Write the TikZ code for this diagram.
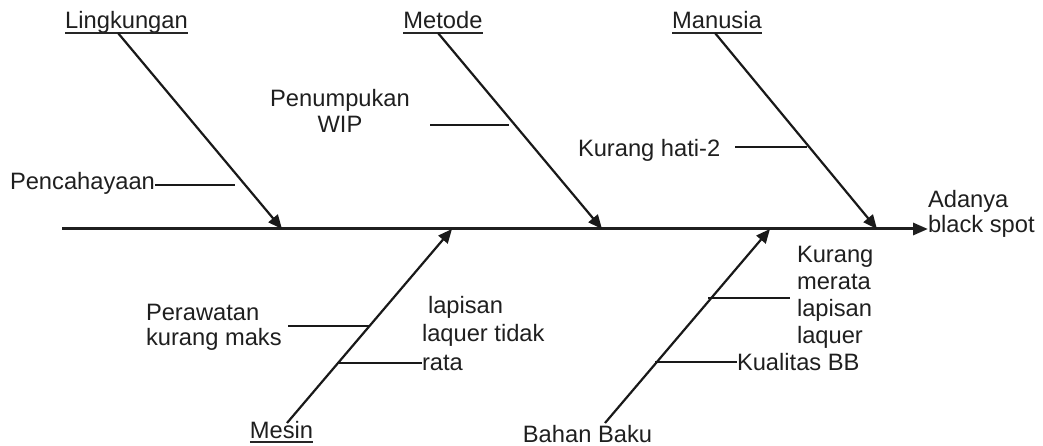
\documentclass[tikz,border=0pt]{standalone}
\usepackage{fontspec}
\setmainfont{Liberation Sans}
\usetikzlibrary{arrows.meta}
\begin{document}
\begin{tikzpicture}[x=1pt,y=-1pt,
  lbl/.style={inner sep=0pt, outer sep=0pt, font=\fontsize{23.7}{26.5}\selectfont, text=black!88},
  spine/.style={line width=3pt, draw=black!88, -{Triangle[length=15pt,width=12pt]}},
  bone/.style={line width=2.2pt, draw=black!90, -{Triangle[length=14pt,width=12pt]}},
  twig/.style={line width=1.4pt, draw=black!90},
  uline/.style={line width=1.5pt, draw=black!85},
]
\useasboundingbox (0,0) rectangle (1043,446);

% spine
\coordinate (s0) at (62,229);
\node[lbl, anchor=base west, align=left, font=\fontsize{23.7}{25}\selectfont] (eff) at (928,233) {Adanya\\black spot};
\draw[spine] (s0) -- (s0 -| eff.west);

% category labels
\node[lbl, anchor=base] (ling) at (126.5,29) {Lingkungan};
\node[lbl, anchor=base] (met) at (443,29) {Metode};
\node[lbl, anchor=base] (man) at (717,29) {Manusia};
\node[lbl, anchor=base] (mes) at (281.5,438) {Mesin};
\node[lbl, anchor=base] (bb) at (587.5,442) {Bahan Baku};
\foreach \n in {ling,met,man,mes}
  \draw[uline] ([yshift=-4pt]\n.base west) -- ([yshift=-4pt]\n.base east);

% bone ends
\coordinate (b1) at (118,33);  \coordinate (t1) at (282,229);
\coordinate (b2) at (438,33);  \coordinate (t2) at (602,229);
\coordinate (b3) at (715,33);  \coordinate (t3) at (877,229);
\coordinate (b4) at (287,423); \coordinate (t4) at (452,229);
\coordinate (b5) at (605,423); \coordinate (t5) at (770,229);
\draw[bone] (b1) -- (t1);
\draw[bone] (b2) -- (t2);
\draw[bone] (b3) -- (t3);
\draw[bone] (b4) -- (t4);
\draw[bone] (b5) -- (t5);

% causes
\node[lbl, anchor=base west] (pen) at (10,190) {Pencahayaan};
\coordinate (p1) at (235,185);
\draw[twig] (pen.east |- p1) -- (p1);

\node[lbl, anchor=base, align=center] (wip) at (340,133) {Penumpukan\\WIP};
\coordinate (w1) at (430,125); \coordinate (w2) at (509,125);
\draw[twig] (w1) -- (w2);

\node[lbl, anchor=base west] (hat) at (578,157) {Kurang hati-2};
\coordinate (h1) at (735,147); \coordinate (h2) at (807,147);
\draw[twig] (h1) -- (h2);

\node[lbl, anchor=base west, align=left, font=\fontsize{23.7}{25}\selectfont] (per) at (146,345) {Perawatan\\kurang maks};
\coordinate (m1) at (288,326); \coordinate (m2) at (369,326);
\draw[twig] (m1) -- (m2);

\node[lbl, anchor=base west, align=left, font=\fontsize{23.7}{28.5}\selectfont] (lap) at (422,370) {\hspace{6pt}lapisan\\laquer tidak\\rata};
\coordinate (r1) at (338,363);
\draw[twig] (r1) -- (r1 -| lap.west);

\node[lbl, anchor=base west, align=left, font=\fontsize{23.7}{26.7}\selectfont] (mer) at (797,343) {Kurang\\merata\\lapisan\\laquer};
\coordinate (k1) at (708,298); \coordinate (k2) at (790,298);
\draw[twig] (k1) -- (k2);

\node[lbl, anchor=base west] (kual) at (737,370) {Kualitas BB};
\coordinate (q1) at (655,362);
\draw[twig] (q1) -- (q1 -| kual.west);
\end{tikzpicture}
\end{document}
